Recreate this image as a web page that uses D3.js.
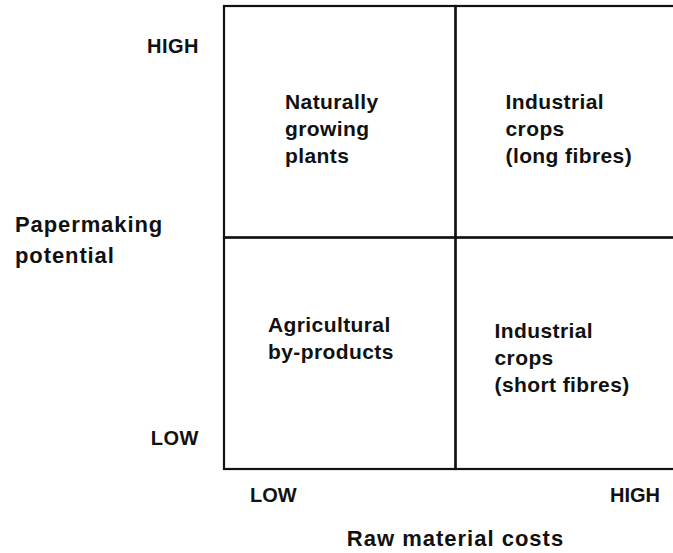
<!DOCTYPE html>
<html>
<head>
<meta charset="utf-8">
<script src="https://cdn.jsdelivr.net/npm/d3@7"></script>
<style>
  body { margin: 0; background: #fff; }
  text { font-family: "Liberation Sans", Arial, sans-serif; fill: #111; }
</style>
</head>
<body>
<div id="wrapper"></div>
<script>
// 1. Data
const costLevels = ["LOW", "HIGH"]
const potentialLevels = ["HIGH", "LOW"]
const quadrantCost = ["LOW", "HIGH", "LOW", "HIGH"]
const quadrantPotential = ["HIGH", "HIGH", "LOW", "LOW"]
const quadrantLines = [
  ["Naturally", "growing", "plants"],
  ["Industrial", "crops", "(long fibres)"],
  ["Agricultural", "by-products"],
  ["Industrial", "crops", "(short fibres)"],
]
const xTitle = "Raw material costs"
const yTitle = ["Papermaking", "potential"]

// 2. Dimensions
const dimensions = {
  width: 673,
  height: 553,
  margin: { top: 6, right: -14, bottom: 84, left: 224 },
}
dimensions.boundedWidth = dimensions.width - dimensions.margin.left - dimensions.margin.right
dimensions.boundedHeight = dimensions.height - dimensions.margin.top - dimensions.margin.bottom

const wrapper = d3.select("#wrapper")
  .append("svg")
  .attr("width", dimensions.width)
  .attr("height", dimensions.height)

const bounds = wrapper.append("g")
  .attr("transform", `translate(${dimensions.margin.left},${dimensions.margin.top})`)

// 3. Scales
const xScale = d3.scaleBand()
  .domain(costLevels)
  .range([0, dimensions.boundedWidth])

const yScale = d3.scaleBand()
  .domain(potentialLevels)
  .range([0, dimensions.boundedHeight])

// 4. Quadrant cells
const cells = quadrantLines.map((lines, i) => ({
  cost: quadrantCost[i],
  potential: quadrantPotential[i],
  lines,
}))

bounds.selectAll("rect.cell")
  .data(cells)
  .enter().append("rect")
  .attr("class", "cell")
  .attr("x", d => xScale(d.cost))
  .attr("y", d => yScale(d.potential))
  .attr("width", xScale.bandwidth())
  .attr("height", yScale.bandwidth())
  .attr("fill", "none")
  .attr("stroke", "#111")
  .attr("stroke-width", 2.2)

// text offset inside each cell (left inset, first baseline)
const inset = {
  "LOW|HIGH": [61, 103],
  "HIGH|HIGH": [50, 103],
  "LOW|LOW": [44, 94],
  "HIGH|LOW": [39, 100],
}
const lineHeight = 27

bounds.selectAll("text.cell-label")
  .data(cells)
  .enter().append("text")
  .attr("class", "cell-label")
  .attr("font-size", 21)
  .attr("font-weight", "bold")
  .attr("letter-spacing", 0.4)
  .attr("x", d => xScale(d.cost) + inset[d.cost + "|" + d.potential][0])
  .attr("y", d => yScale(d.potential) + inset[d.cost + "|" + d.potential][1])
  .selectAll("tspan")
  .data(d => d.lines.map(l => ({ l, x: xScale(d.cost) + inset[d.cost + "|" + d.potential][0] })))
  .enter().append("tspan")
  .attr("x", d => d.x)
  .attr("dy", (d, i) => i === 0 ? 0 : lineHeight)
  .text(d => d.l)

// 5. Axis level labels
const yLevelPos = { HIGH: 47, LOW: 439 }
bounds.selectAll("text.y-level")
  .data(potentialLevels)
  .enter().append("text")
  .attr("class", "y-level")
  .attr("x", -25)
  .attr("y", d => yLevelPos[d])
  .attr("text-anchor", "end")
  .attr("font-size", 20)
  .attr("font-weight", "bold")
  .attr("letter-spacing", 0.5)
  .text(d => d)

const xLevelPos = { LOW: [26, "start"], HIGH: [436, "end"] }
bounds.selectAll("text.x-level")
  .data(costLevels)
  .enter().append("text")
  .attr("class", "x-level")
  .attr("x", d => xLevelPos[d][0])
  .attr("y", dimensions.boundedHeight + 33)
  .attr("text-anchor", d => xLevelPos[d][1])
  .attr("font-size", 20)
  .attr("font-weight", "bold")
  .text(d => d)

// 6. Axis titles
bounds.append("text")
  .attr("x", xScale("HIGH"))
  .attr("y", dimensions.boundedHeight + 77)
  .attr("text-anchor", "middle")
  .attr("font-size", 22)
  .attr("font-weight", "bold")
  .attr("letter-spacing", 1)
  .text(xTitle)

bounds.append("text")
  .attr("x", -209)
  .attr("y", 226)
  .attr("font-size", 22)
  .attr("font-weight", "bold")
  .attr("letter-spacing", 0.9)
  .selectAll("tspan")
  .data(yTitle)
  .enter().append("tspan")
  .attr("x", -209)
  .attr("dy", (d, i) => i === 0 ? 0 : 31)
  .text(d => d)
</script>
</body>
</html>
